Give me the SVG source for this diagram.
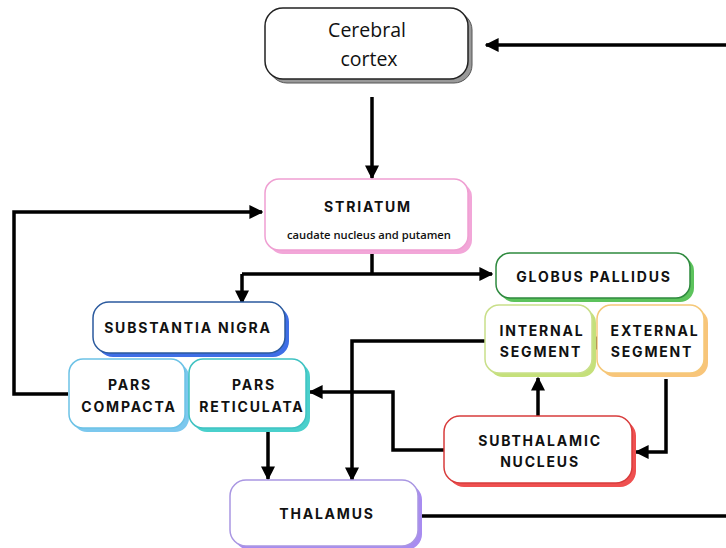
<svg xmlns="http://www.w3.org/2000/svg" width="726" height="548" viewBox="0 0 726 548">
<style>
.box{fill:#fff;stroke-width:1.5}
.t{font-family:Inter,"Open Sans","Liberation Sans",sans-serif;font-weight:700;font-size:14px;letter-spacing:1.8px;fill:#111;text-anchor:middle}
.big{font-family:"Open Sans","Liberation Sans",sans-serif;font-weight:400;font-size:19.5px;fill:#111;text-anchor:middle}
.small{font-family:"Open Sans","Liberation Sans",sans-serif;font-weight:600;font-size:11.2px;fill:#111;text-anchor:middle}
.c{fill:none;stroke:#000;stroke-width:3.5}
</style>
<defs>
<marker id="ah" viewBox="0 0 10 10" refX="9" refY="5" markerWidth="4" markerHeight="4" orient="auto" markerUnits="strokeWidth">
<path d="M0,0 L10,5 L0,10 z" fill="#000"/>
</marker>
</defs>
<g id="connectors">
<path class="c" d="M726,45 H486" marker-end="url(#ah)"/>
<path class="c" d="M372,97 V178" marker-end="url(#ah)"/>
<path class="c" d="M68,394 H14 V212 H262" marker-end="url(#ah)"/>
<path class="c" d="M372,251 V274"/>
<path class="c" d="M242,274 H492" marker-end="url(#ah)"/>
<path class="c" d="M242,274 V303" marker-end="url(#ah)"/>
<path class="c" d="M610,343 H585" marker-end="url(#ah)"/>
<path class="c" d="M485,341 H352 V480" marker-end="url(#ah)"/>
<path class="c" d="M268,431 V479" marker-end="url(#ah)"/>
<path class="c" d="M538,416 V378" marker-end="url(#ah)"/>
<path class="c" d="M666,379 V452 H636" marker-end="url(#ah)"/>
<path class="c" d="M444,450 H393 V392 H310" marker-end="url(#ah)"/>
<path class="c" d="M420,516 H726"/>
</g>
<g id="cortex">
<rect x="269" y="12" width="203" height="71" rx="18" fill="#999" stroke="#555" stroke-width="1"/>
<rect class="box" x="265" y="8" width="203" height="71" rx="18" stroke="#222"/>
<text class="big" x="367" y="37">Cerebral</text>
<text class="big" x="369" y="66">cortex</text>
</g>
<g id="striatum">
<rect x="269" y="183" width="203" height="71" rx="14" fill="#f2a6d8"/>
<rect class="box" x="265" y="179" width="203" height="71" rx="14" stroke="#ef9fd2"/>
<text class="t" x="368" y="212">STRIATUM</text>
<text class="small" x="369" y="239">caudate nucleus and putamen</text>
</g>
<g id="globus-pallidus">
<rect x="500" y="257" width="194" height="45" rx="14" fill="#5cc35c"/>
<rect class="box" x="496" y="253" width="194" height="45" rx="14" stroke="#2f8a3f"/>
<text class="t" x="594" y="282">GLOBUS PALLIDUS</text>
</g>
<g id="internal-segment">
<rect x="489" y="309" width="107" height="68" rx="14" fill="#c5e07a"/>
<rect class="box" x="485" y="305" width="107" height="68" rx="14" stroke="#c9df8a"/>
<text class="t" x="542" y="336">INTERNAL</text>
<text class="t" x="541" y="357">SEGMENT</text>
</g>
<g id="external-segment">
<rect x="601" y="309" width="107" height="68" rx="14" fill="#f8c57a"/>
<rect class="box" x="597" y="305" width="107" height="68" rx="14" stroke="#f5c878"/>
<text class="t" x="655" y="336">EXTERNAL</text>
<text class="t" x="652" y="357">SEGMENT</text>
</g>
<g id="substantia-nigra">
<rect x="97" y="306" width="192" height="51" rx="16" fill="#3f6ee6"/>
<rect class="box" x="93" y="302" width="192" height="51" rx="16" stroke="#2b5a9e"/>
<text class="t" x="188" y="333">SUBSTANTIA NIGRA</text>
</g>
<g id="pars-compacta">
<rect x="73" y="363" width="116" height="69" rx="14" fill="#7cc8ee"/>
<rect class="box" x="69" y="359" width="116" height="69" rx="14" stroke="#6cc2e6"/>
<text class="t" x="130" y="390">PARS</text>
<text class="t" x="129" y="412">COMPACTA</text>
</g>
<g id="pars-reticulata">
<rect x="193" y="363" width="117" height="69" rx="14" fill="#4ad0cc"/>
<rect class="box" x="189" y="359" width="117" height="69" rx="14" stroke="#3fc2c2"/>
<text class="t" x="254" y="390">PARS</text>
<text class="t" x="252" y="412">RETICULATA</text>
</g>
<g id="subthalamic-nucleus">
<rect x="448" y="420" width="188" height="67" rx="16" fill="#ef5050"/>
<rect class="box" x="444" y="416" width="188" height="67" rx="16" stroke="#d83c3c"/>
<text class="t" x="540" y="446">SUBTHALAMIC</text>
<text class="t" x="540" y="467">NUCLEUS</text>
</g>
<g id="thalamus">
<rect x="234" y="484" width="188" height="66" rx="16" fill="#a88cf0"/>
<rect class="box" x="230" y="480" width="188" height="66" rx="16" stroke="#a996e2"/>
<text class="t" x="327" y="519">THALAMUS</text>
</g>
</svg>
